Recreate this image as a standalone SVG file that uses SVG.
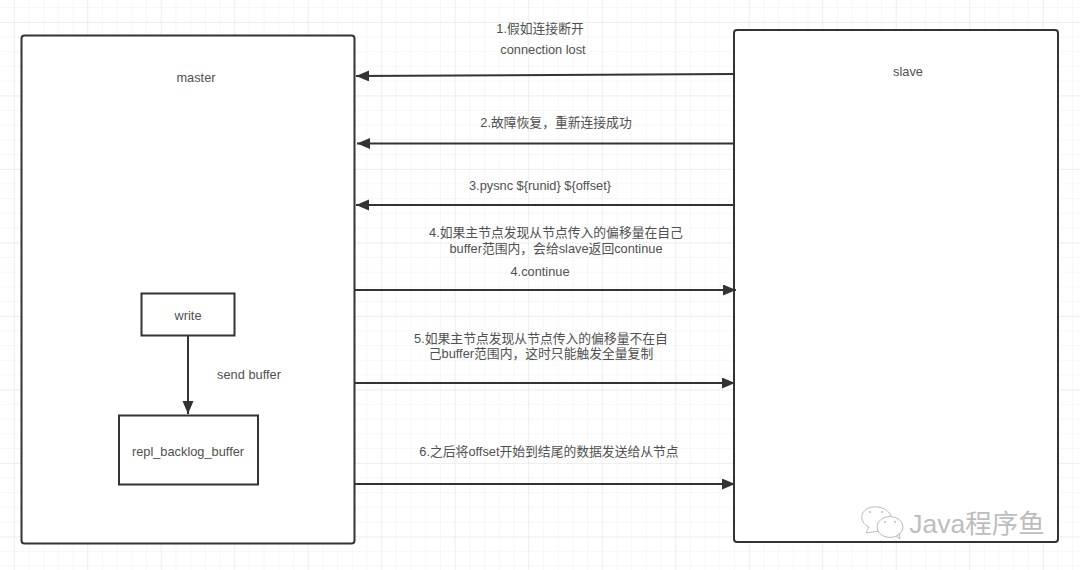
<svg xmlns="http://www.w3.org/2000/svg" width="1080" height="570" viewBox="0 0 1080 570">
<style>
text{font-family:"Liberation Sans","Noto Sans CJK SC",sans-serif;font-size:12.8px;fill:#505050;text-anchor:middle}
.box{fill:#fff;stroke:#333;stroke-width:2}
.conn{fill:none;stroke:#333;stroke-width:2}
.wm{fill:none;stroke:#bbb;stroke-width:1}
.dot{fill:#bbb}
</style>
<defs>
<pattern id="minor" width="14.7" height="14.7" patternUnits="userSpaceOnUse" y="8"><path d="M14.7 0V14.7M0 14.7H14.7" fill="none" stroke="#f0f0f0" stroke-width="1"/></pattern>
<pattern id="major" width="73.5" height="73.5" patternUnits="userSpaceOnUse" x="14.7" y="23"><path d="M73.5 0V73.5M0 73.5H73.5" fill="none" stroke="#e6e6e6" stroke-width="1"/></pattern>
<marker id="arrow" markerUnits="userSpaceOnUse" markerWidth="14" markerHeight="12" refX="13" refY="5.500" orient="auto"><path d="M0 0L13 5.500L0 11Z" fill="#333"/></marker>
</defs>
<rect width="1080" height="570" fill="#fff"/>
<rect width="1080" height="570" fill="url(#minor)"/>
<rect width="1080" height="570" fill="url(#major)"/>
<g id="master"><rect class="box" x="21.500" y="35.500" width="333" height="508" rx="3"/><text x="196" y="82">master</text></g>
<g id="slave"><rect class="box" x="734" y="30" width="324" height="512" rx="3"/><text x="908" y="76">slave</text></g>
<g id="connectors">
<path class="conn" marker-end="url(#arrow)" d="M734 74L356 76"/>
<path class="conn" marker-end="url(#arrow)" d="M734 143.500H357"/>
<path class="conn" marker-end="url(#arrow)" d="M734 205H356"/>
<path class="conn" marker-end="url(#arrow)" d="M355 290L736 290"/>
<path class="conn" marker-end="url(#arrow)" d="M355 383H735"/>
<path class="conn" marker-end="url(#arrow)" d="M355 484H735"/>
<path class="conn" marker-end="url(#arrow)" d="M188 335V414"/>
</g>
<g id="write"><rect class="box" x="141.500" y="293.500" width="93" height="42"/><text x="188" y="320">write</text></g>
<g id="repl"><rect class="box" x="119" y="415.500" width="139" height="69"/><text x="188" y="456">repl_backlog_buffer</text></g>
<g id="labels">
<text x="540" y="33">1.假如连接断开</text>
<text x="543" y="54">connection lost</text>
<text x="556" y="127">2.故障恢复，重新连接成功</text>
<text x="540" y="190">3.pysnc ${runid} ${offset}</text>
<text x="556" y="237">4.如果主节点发现从节点传入的偏移量在自己</text>
<text x="556" y="253">buffer范围内，会给slave返回continue</text>
<text x="540" y="276">4.continue</text>
<text x="541" y="343">5.如果主节点发现从节点传入的偏移量不在自</text>
<text x="541" y="358">己buffer范围内，这时只能触发全量复制</text>
<text x="549" y="456">6.之后将offset开始到结尾的数据发送给从节点</text>
<text x="249" y="379">send buffer</text>
</g>
<g id="watermark">
<path class="wm" d="M879 531L866 533L869 527C858 522 860 509 872 507C881 506 889 510 891 516"/>
<ellipse class="wm" cx="890" cy="527" rx="13" ry="10.500"/>
<path class="wm" d="M896 536L900 539L899 533"/>
<circle class="dot" cx="870" cy="512" r="1"/><circle class="dot" cx="882" cy="512" r="1"/>
<circle class="dot" cx="885" cy="522" r="1"/><circle class="dot" cx="895" cy="522" r="1"/>
<text x="977" y="533" style="font-size:26.500px;fill:#bdbdbd">Java程序鱼</text>
</g>
</svg>
